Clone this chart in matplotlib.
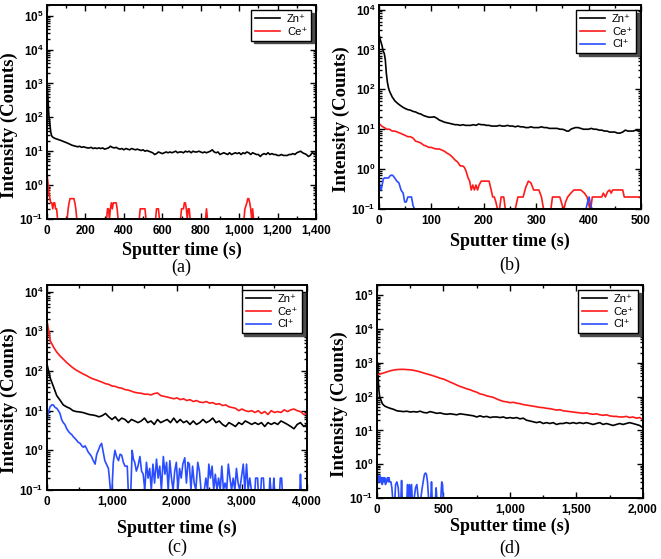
import math
import matplotlib
matplotlib.use("Agg")
import matplotlib.pyplot as plt
from matplotlib.ticker import LogLocator, FuncFormatter, MultipleLocator, NullFormatter

plt.rcParams['mathtext.fontset'] = 'custom'
plt.rcParams['mathtext.rm'] = 'Liberation Sans:bold'
plt.rcParams['mathtext.bf'] = 'Liberation Sans:bold'

# ---------------- (a) ----------------
a_zn_t = [0, 3, 6, 10, 15, 20, 25, 30, 40, 50, 60, 70, 80, 90, 100, 110, 120, 130, 140, 150,
          160, 170, 180, 190, 200, 210, 220, 230, 240, 250, 260, 270, 280, 290, 300, 310, 320,
          330, 340, 350, 360, 370, 380, 390, 400, 410, 420, 430, 440, 450, 460, 470, 480, 490,
          500, 510, 520, 530, 540, 550, 560, 570, 580, 590, 600, 610, 620, 630, 640, 650, 660,
          670, 680, 690, 700, 710, 720, 730, 740, 750, 760, 770, 780, 790, 800, 810, 820, 830,
          840, 850, 860, 870, 880, 890, 900, 910, 920, 930, 940, 950, 960, 970, 980, 990, 1000,
          1010, 1020, 1030, 1040, 1050, 1060, 1070, 1080, 1090, 1100, 1110, 1120, 1130, 1140,
          1150, 1160, 1170, 1180, 1190, 1200, 1210, 1220, 1230, 1240, 1250, 1260, 1270, 1280,
          1290, 1300, 1310, 1320, 1330, 1340, 1350, 1360, 1370, 1380, 1390, 1400]
a_zn = [150, 600, 300, 110, 60, 35, 28, 26, 24, 23, 22, 21, 20, 19, 18, 17, 16, 15, 14.5, 14,
        13.5, 14, 13, 13.5, 13, 12.5, 12.5, 13, 12, 12.5, 12, 12.5, 12, 12.5, 11.5, 12, 12.5,
        14, 13, 12.5, 13, 12, 11.5, 12, 11, 12, 11.5, 11, 12, 11.5, 11, 11.5, 11, 10.5,
        11, 10, 10.5, 10, 9.5, 9, 8, 8.5, 9.5, 9, 8.5, 9, 9.5, 9, 9.5, 9, 9.5,
        10, 9, 9.5, 9.5, 9, 10, 9.5, 10, 9, 10, 9.5, 9.5, 10, 9.5, 9, 9.5, 9,
        9.5, 10, 11, 9.5, 9, 9.5, 8, 8.5, 9, 8.5, 8, 9, 8, 8.5, 9, 8.5, 9,
        8, 9, 8.5, 9.5, 9, 8, 9, 8.5, 8, 8, 7, 8, 8.5, 8,
        9, 8, 8.5, 8, 8, 7.5, 7.5, 8, 7.5, 7.5, 7.5, 8, 8, 8.5,
        8, 9, 9.5, 10, 9, 8.5, 8, 7, 7.5, 9, 8.5, 9]
a_ce_t = [0, 5, 10, 15, 20, 25, 30, 35, 40, 45, 50, 55, 105, 110, 115, 120, 130, 140, 145, 150,
          155, 310, 315, 320, 325, 330, 335, 340, 345, 350, 360, 365, 370, 480, 485, 510, 515,
          565, 570, 580, 585, 695, 700, 710, 715, 720, 725, 730, 735, 740, 745, 825, 830, 835,
          1025, 1030, 1040, 1045, 1050, 1055, 1060, 1065, 1070, 1075, 1400]
a_ce = [2.2, 1.2, 0.6, 0.4, 0.3, 0.3, 0.2, 0.3, 0.3, 0.2, 0.2, 0.1, 0.1, 0.2, 0.3, 0.4, 0.4, 0.4, 0.3, 0.2,
        0.1, 0.1, 0.2, 0.2, 0.1, 0.2, 0.3, 0.2, 0.3, 0.3, 0.3, 0.2, 0.1, 0.1, 0.2, 0.2, 0.1,
        0.1, 0.2, 0.2, 0.1, 0.1, 0.2, 0.2, 0.3, 0.3, 0.2, 0.1, 0.2, 0.2, 0.1, 0.1, 0.2, 0.1,
        0.1, 0.2, 0.3, 0.4, 0.4, 0.3, 0.2, 0.1, 0.2, 0.1, 0.1]
a_cl_t = [0, 1400]
a_cl = [0.1, 0.1]

# ---------------- (b) ----------------
b_zn_t = [0, 2, 4, 6, 8, 10, 12, 14, 16, 18, 20, 25, 30, 35, 40, 45, 50, 55, 60, 65, 70, 75, 80,
          85, 90, 95, 100, 105, 110, 115, 120, 125, 130, 135, 140, 145, 150, 155, 160, 165, 170,
          175, 180, 185, 190, 195, 200, 205, 210, 215, 220, 225, 230, 235, 240, 245, 250, 255,
          260, 265, 270, 275, 280, 285, 290, 295, 300, 305, 310, 315, 320, 325, 330, 335, 340,
          345, 350, 355, 358, 362, 366, 370, 375, 380, 385, 390, 395, 400, 405, 410, 415, 420,
          425, 430, 435, 440, 445, 450, 455, 460, 465, 470, 475, 480, 485, 490, 495, 500]
b_zn = [2500, 1800, 1500, 1200, 900, 800, 550, 250, 150, 110, 90, 65, 52, 45, 40, 36, 33, 31, 30,
        28, 27, 25, 24, 22, 21, 20, 20, 20.5, 19, 17, 16, 15, 14.5, 14, 13.5, 13, 13, 12.5, 13,
        12.5, 12.5, 12.5, 13, 12.5, 13.5, 13, 13, 12.5, 12.5, 12, 12, 12, 12.5, 12, 12, 12.5, 12,
        12, 11.5, 12, 11.5, 11.5, 11, 11, 11.5, 11, 11, 11, 11.5, 11, 11, 10.5, 10.5, 10.5, 10.5,
        10, 10, 9.5, 9, 9, 10, 10.5, 11, 11, 10.5, 10, 10, 10, 10.5, 10, 10, 9.5,
        9.5, 9, 9, 8.5, 8.5, 8.5, 8, 8, 8.5, 9.5, 9, 9, 9, 9.5, 9, 9]
b_ce_t = [0, 5, 10, 15, 20, 25, 30, 35, 40, 45, 50, 55, 60, 65, 70, 75, 80, 85, 90, 95, 100, 105,
          110, 115, 120, 125, 130, 135, 140, 145, 150, 155, 160, 163, 166, 170, 173, 176, 179,
          182, 185, 188, 191, 195, 200, 205, 210, 214, 217, 220, 223, 226, 230, 233, 238, 241,
          260, 265, 275, 280, 285, 290, 295, 305, 310, 314, 328, 331, 345, 350, 353, 356, 360,
          366, 372, 385, 392, 397, 401, 404, 407, 425, 428, 432, 436, 440, 443, 446, 465, 468, 500]
b_ce = [14, 12, 11, 10, 10, 9, 9, 8.5, 8, 7.5, 7, 6.5, 6.5, 6, 5, 4.8, 4.5, 4, 3.8, 3.5, 3.5, 3.3,
        3.2, 3.2, 3.0, 2.8, 2.5, 2.3, 2.0, 1.7, 1.5, 1.2, 1.2, 1.1, 0.9, 0.6, 0.5, 0.3, 0.4,
        0.3, 0.4, 0.3, 0.4, 0.5, 0.5, 0.5, 0.5, 0.3, 0.2, 0.2, 0.15, 0.1, 0.1, 0.2, 0.2, 0.1,
        0.1, 0.2, 0.2, 0.35, 0.5, 0.45, 0.3, 0.3, 0.2, 0.1, 0.1, 0.2, 0.2, 0.12, 0.1, 0.15, 0.2,
        0.25, 0.3, 0.3, 0.25, 0.2, 0.12, 0.1, 0.2, 0.2, 0.25, 0.2, 0.27, 0.3, 0.25, 0.3, 0.3, 0.2, 0.2]
b_cl_t = [0, 2, 4, 6, 8, 10, 14, 18, 22, 26, 30, 34, 38, 42, 46, 49, 52, 55, 58, 62, 65, 68,
          395, 398, 401, 404, 407, 425]
b_cl = [0.5, 0.35, 0.3, 0.4, 0.55, 0.6, 0.6, 0.6, 0.7, 0.7, 0.6, 0.5, 0.45, 0.3, 0.25, 0.15,
        0.15, 0.2, 0.2, 0.2, 0.12, 0.1, 0.1, 0.15, 0.2, 0.12, 0.1, 0.1]

# ---------------- (c) ----------------
c_t = [0, 50, 100, 150, 200, 250, 300, 350, 400, 450, 500, 550, 600, 650, 700, 750, 800, 850,
       900, 950, 1000, 1050, 1100, 1150, 1200, 1250, 1300, 1350, 1400, 1450, 1500, 1550, 1600,
       1650, 1700, 1750, 1800, 1850, 1900, 1950, 2000, 2050, 2100, 2150, 2200, 2250, 2300, 2350,
       2400, 2450, 2500, 2550, 2600, 2650, 2700, 2750, 2800, 2850, 2900, 2950, 3000, 3050, 3100,
       3150, 3200, 3250, 3300, 3350, 3400, 3450, 3500, 3550, 3600, 3650, 3700, 3750, 3800, 3850,
       3900, 3950, 4000]
c_zn = [150, 66, 40, 24, 18.5, 14, 12.5, 11.5, 10, 9.5, 9.3, 9, 8.5, 8, 7.8, 7.5, 7, 7.5,
        8.5, 7, 6, 7, 5.5, 6.5, 6, 5, 6, 5.5, 5, 5.5, 6.5, 5, 5.5, 4.5,
        6, 5, 5.5, 6, 5, 6.5, 5, 6, 5, 5.5, 4.5, 5.5, 4.5, 5, 6, 5, 5.5, 6.5, 5,
        5.5, 4.5, 4, 5, 4.5, 4, 5, 4.5, 5.5, 5, 4.5, 5, 4.5, 5, 4, 5, 4.5, 5, 4.5,
        5.5, 5, 4.5, 4, 3.5, 4.5, 5, 4, 4.5]
c_ce = [1900, 580, 400, 300, 240, 200, 165, 140, 120, 105, 95, 85, 78, 70, 64, 60, 56, 52,
        48, 46, 42, 41, 38, 37, 34, 33, 31, 29, 28, 27.5, 26, 26, 25, 27, 28, 24, 23, 22, 21, 20,
        21, 19, 20, 18, 19, 17, 18, 16.5, 16, 17, 15.5, 16, 14.5, 15, 13.5, 14, 12.5, 12, 11.5,
        10, 11, 10, 9.5, 10, 9, 10, 8.5, 9.5, 8, 10, 9, 9.5, 9, 10.5, 9.5, 10.5, 11, 10, 9.5,
        8, 8.5]
c_cl_t = [0, 20, 46, 75, 97, 125, 150, 175, 200, 225, 250, 275, 300, 330, 355, 380, 405, 430,
          455, 480, 510, 535, 560, 585, 610, 635, 660, 685, 710, 740, 765, 790, 815, 840, 865,
          890, 915, 945, 960, 975, 1000, 1020, 1045, 1070, 1100, 1125, 1150, 1175, 1200, 1235,
          1250, 1290, 1310, 1330, 1350, 1375, 1400, 1430, 1455, 1480, 1505, 1530, 1555, 1580,
          1605, 1630, 1655, 1685, 1710, 1735, 1760, 1790, 1815, 1840, 1865, 1890, 1915, 1940,
          1965, 1990, 2015, 2040, 2065, 2090, 2120, 2145, 2170, 2190, 2215, 2240, 2265, 2290,
          2320, 2345, 2370, 2420, 2445, 2470, 2490, 2515, 2540, 2565, 2590, 2615, 2640, 2665,
          2690, 2715, 2740, 2765, 2790, 2815, 2840, 2865, 2890, 2915, 2940, 2965, 3020, 3045,
          3070, 3095, 3120, 3145, 3200, 3210, 3240, 3250, 3290, 3300, 3330, 3340, 3420, 3430,
          3445, 3480, 3490, 3500, 3580, 3590, 3610, 3620, 3890, 3900, 3910, 4000]
c_cl = [5.5, 9, 12.5, 14, 14, 12, 11.5, 10, 8.5, 6, 5, 4.5, 3.6, 3, 2.7, 2.5, 2.2, 2.0,
        1.8, 1.6, 1.5, 1.3, 1.2, 1.3, 1.1, 0.9, 0.8, 0.7, 0.56, 0.45, 0.8, 1.0, 1.3, 1.5, 0.9,
        0.55, 0.45, 0.35, 0.2, 0.1, 0.1, 0.5, 1.0, 0.7, 0.55, 0.8, 0.75, 0.5, 0.4, 0.4,
        0.1, 0.1, 1.0, 0.6, 0.5, 0.3, 0.4, 0.7, 0.3, 0.25, 0.1, 0.5, 0.2, 0.35,
        0.1, 0.45, 0.15, 0.6, 0.2, 0.4, 0.1, 0.7, 0.25, 0.5, 0.1, 0.55, 0.2, 0.1,
        0.3, 0.5, 0.1, 0.35, 0.2, 0.45, 0.65, 0.15, 0.5, 0.45, 0.1, 0.4, 0.15, 0.1,
        0.5, 0.3, 0.1, 0.1, 0.2, 0.1, 0.45, 0.2, 0.4, 0.1, 0.25, 0.1, 0.2, 0.1,
        0.4, 0.1, 0.15, 0.1, 0.45, 0.2, 0.1, 0.2, 0.1, 0.35, 0.15, 0.1, 0.45, 0.1,
        0.45, 0.1, 0.2, 0.1, 0.1, 0.2, 0.2, 0.1, 0.1, 0.2, 0.2, 0.1, 0.1, 0.2,
        0.1, 0.1, 0.2, 0.1, 0.1, 0.2, 0.2, 0.1, 0.1, 0.25, 0.1, 0.1]

# ---------------- (d) ----------------
d_zn_t = [0, 5, 10, 15, 20, 30, 40, 50, 60, 80, 100, 125, 150, 175, 200, 225, 250, 275, 300,
          325, 350, 375, 400, 425, 450, 475, 500, 525, 550, 575, 600, 625, 650, 675, 700, 725,
          750, 775, 800, 825, 850, 875, 900, 925, 950, 975, 1000, 1025, 1050, 1075, 1100, 1125,
          1150, 1175, 1200, 1225, 1250, 1275, 1300, 1325, 1350, 1375, 1400, 1425, 1450, 1475,
          1500, 1525, 1550, 1575, 1600, 1625, 1650, 1675, 1700, 1725, 1750, 1775, 1800, 1825,
          1850, 1875, 1900, 1925, 1950, 1975, 2000]
d_zn = [450, 1000, 300, 150, 100, 80, 62, 56, 52, 48, 45, 42, 38, 37, 36, 37, 35, 36, 35,
        37, 34, 33, 36, 34, 32, 33, 31, 30, 31, 30, 29, 31, 30, 29, 28, 27,
        25, 27, 25, 26, 24, 25, 25, 24, 25, 23, 24, 23, 24, 22, 23, 20,
        19, 18, 17, 18, 16, 17, 16, 17, 15, 16, 16, 17, 16, 17,
        16, 17, 16, 17, 16, 15, 16, 17, 15, 16, 15, 14, 15, 16,
        15, 16, 17, 16, 15, 14, 12]
d_ce_t = [0, 25, 50, 75, 100, 125, 150, 175, 200, 225, 250, 275, 300, 325, 350, 375, 400, 425,
          450, 475, 500, 525, 550, 575, 600, 625, 650, 675, 700, 725, 750, 775, 800, 825, 850,
          875, 900, 925, 950, 975, 1000, 1025, 1050, 1075, 1100, 1125, 1150, 1175, 1200, 1225,
          1250, 1275, 1300, 1325, 1350, 1375, 1400, 1425, 1450, 1475, 1500, 1525, 1550, 1575,
          1600, 1625, 1650, 1675, 1700, 1725, 1750, 1775, 1800, 1825, 1850, 1875, 1900, 1925,
          1950, 1975, 2000]
d_ce = [440, 470, 500, 540, 580, 610, 630, 640, 640, 630, 620, 600, 570, 540, 500, 470, 440, 410,
        380, 350, 330, 300, 270, 245, 220, 200, 185, 170, 160, 145, 135, 120, 115, 105, 100,
        95, 85, 78, 72, 70, 66, 68, 64, 62, 58, 56, 54, 52, 50, 48,
        47, 45, 44, 42, 40, 41, 38, 37, 36, 35, 34, 33, 32, 33,
        31, 30, 31, 29, 28, 29, 27, 26, 26, 25, 25, 26, 24, 25,
        23, 24, 21]
d_cl_t = [0, 3, 8, 12, 18, 24, 30, 35, 40, 46, 52, 58, 64, 70, 78, 85, 90, 96, 105, 112, 118,
          135, 140, 150, 160, 165, 180, 185, 190, 225, 230, 235, 245, 250, 260, 265, 280, 290,
          300, 310, 330, 340, 350, 357, 365, 372, 380, 388, 405, 410, 415, 440, 445, 450, 480,
          487, 493, 498, 1750]
d_cl = [0.1, 0.5, 0.3, 0.45, 0.3, 0.45, 0.3, 0.4, 0.25, 0.4, 0.3, 0.4, 0.25, 0.3, 0.4, 0.3,
        0.4, 0.3, 0.3, 0.2, 0.1, 0.1, 0.25, 0.3, 0.2, 0.1, 0.1, 0.33, 0.1, 0.1, 0.25, 0.1,
        0.25, 0.1, 0.25, 0.1, 0.1, 0.2, 0.25, 0.1, 0.1, 0.2, 0.35, 0.5, 0.55, 0.5, 0.3, 0.1,
        0.1, 0.3, 0.1, 0.1, 0.2, 0.1, 0.1, 0.3, 0.25, 0.1, 0.1]

ZN_COL = 'black'
CE_COL = '#ff1a1a'
CL_COL = '#2a4dff'
SERIF = 'Liberation Serif'
SANS = ['Liberation Sans', 'DejaVu Sans']


def dibujar(ax, series, xmax, xmaj, xmin, ytop, letra, ypanel, xpad):
    for t, v, col, lab in series:
        ax.plot(t, v, color=col, lw=1.2, label=lab)
    ax.set_yscale('log')
    ax.set_xlim(0, xmax)
    ax.set_ylim(0.1, ytop)
    ax.xaxis.set_major_locator(MultipleLocator(xmaj))
    ax.xaxis.set_minor_locator(MultipleLocator(xmin))
    ax.xaxis.set_major_formatter(FuncFormatter(lambda x, p: '{:,.0f}'.format(x)))
    ax.yaxis.set_major_locator(LogLocator(base=10, numticks=20))
    ax.yaxis.set_minor_locator(LogLocator(base=10, subs=range(2, 10), numticks=20))
    ax.yaxis.set_minor_formatter(NullFormatter())
    ax.yaxis.set_major_formatter(FuncFormatter(lambda y, p: r'$\mathbf{10^{%d}}$' % round(math.log10(y))))
    ax.tick_params(which='both', direction='in', top=True, right=True, width=1)
    ax.tick_params(which='major', length=4.5, labelsize=8.5)
    ax.tick_params(axis='x', which='major', pad=4.5)
    ax.tick_params(axis='y', which='major', pad=2.5)
    ax.tick_params(which='minor', length=2.5)
    for lbl in ax.get_xticklabels():
        lbl.set_fontweight('bold')
        lbl.set_family(SANS)
    for s in ax.spines.values():
        s.set_linewidth(1.4)
    ax.set_xlabel('Sputter time (s)', family=SERIF, fontweight='bold', fontsize=13, labelpad=xpad)
    ax.set_ylabel('Intensity (Counts)', family=SERIF, fontweight='bold', fontsize=13.5, labelpad=1)
    ax.yaxis.label.set_y(0.44)
    ax.text(0.5, ypanel, letra, transform=ax.transAxes, ha='center', va='center',
            family=SERIF, fontsize=13)
    handles, labels = ax.get_legend_handles_labels()
    ax.legend(handles, labels, loc='upper right', fancybox=False, shadow={'color': '0.3', 'alpha': 1},
              edgecolor='black', framealpha=1, prop={'family': SANS, 'size': 8},
              handlelength=2.3, handletextpad=0.6, labelspacing=0.25, borderaxespad=0.45,
              borderpad=0.35)


fig = plt.figure(figsize=(6.61, 5.59), dpi=100)
ax_a = fig.add_axes([0.0711, 0.6082, 0.407, 0.3828])
ax_b = fig.add_axes([0.5734, 0.6261, 0.3964, 0.3649])
ax_c = fig.add_axes([0.0711, 0.1234, 0.3933, 0.3667])
ax_d = fig.add_axes([0.5703, 0.1091, 0.4024, 0.381])

dibujar(ax_a, [(a_cl_t, a_cl, CL_COL, '_nolegend_'), (a_zn_t, a_zn, ZN_COL, 'Zn⁺'),
               (a_ce_t, a_ce, CE_COL, 'Ce⁺')],
        1400, 200, 100, 2.05e5, '(a)', -0.225, 3.0)
dibujar(ax_b, [(b_zn_t, b_zn, ZN_COL, 'Zn⁺'), (b_ce_t, b_ce, CE_COL, 'Ce⁺'),
               (b_cl_t, b_cl, CL_COL, 'Cl⁺')],
        500, 100, 50, 1.3e4, '(b)', -0.275, 3.8)
dibujar(ax_c, [(c_t, c_zn, ZN_COL, 'Zn⁺'), (c_t, c_ce, CE_COL, 'Ce⁺'),
               (c_cl_t, c_cl, CL_COL, 'Cl⁺')],
        4000, 1000, 500, 1.47e4, '(c)', -0.282, 8.0)
dibujar(ax_d, [(d_zn_t, d_zn, ZN_COL, 'Zn⁺'), (d_ce_t, d_ce, CE_COL, 'Ce⁺'),
               (d_cl_t, d_cl, CL_COL, 'Cl⁺')],
        2000, 500, 250, 2.0e5, '(d)', -0.235, 1.3)

fig.savefig('out.png', dpi=100)
